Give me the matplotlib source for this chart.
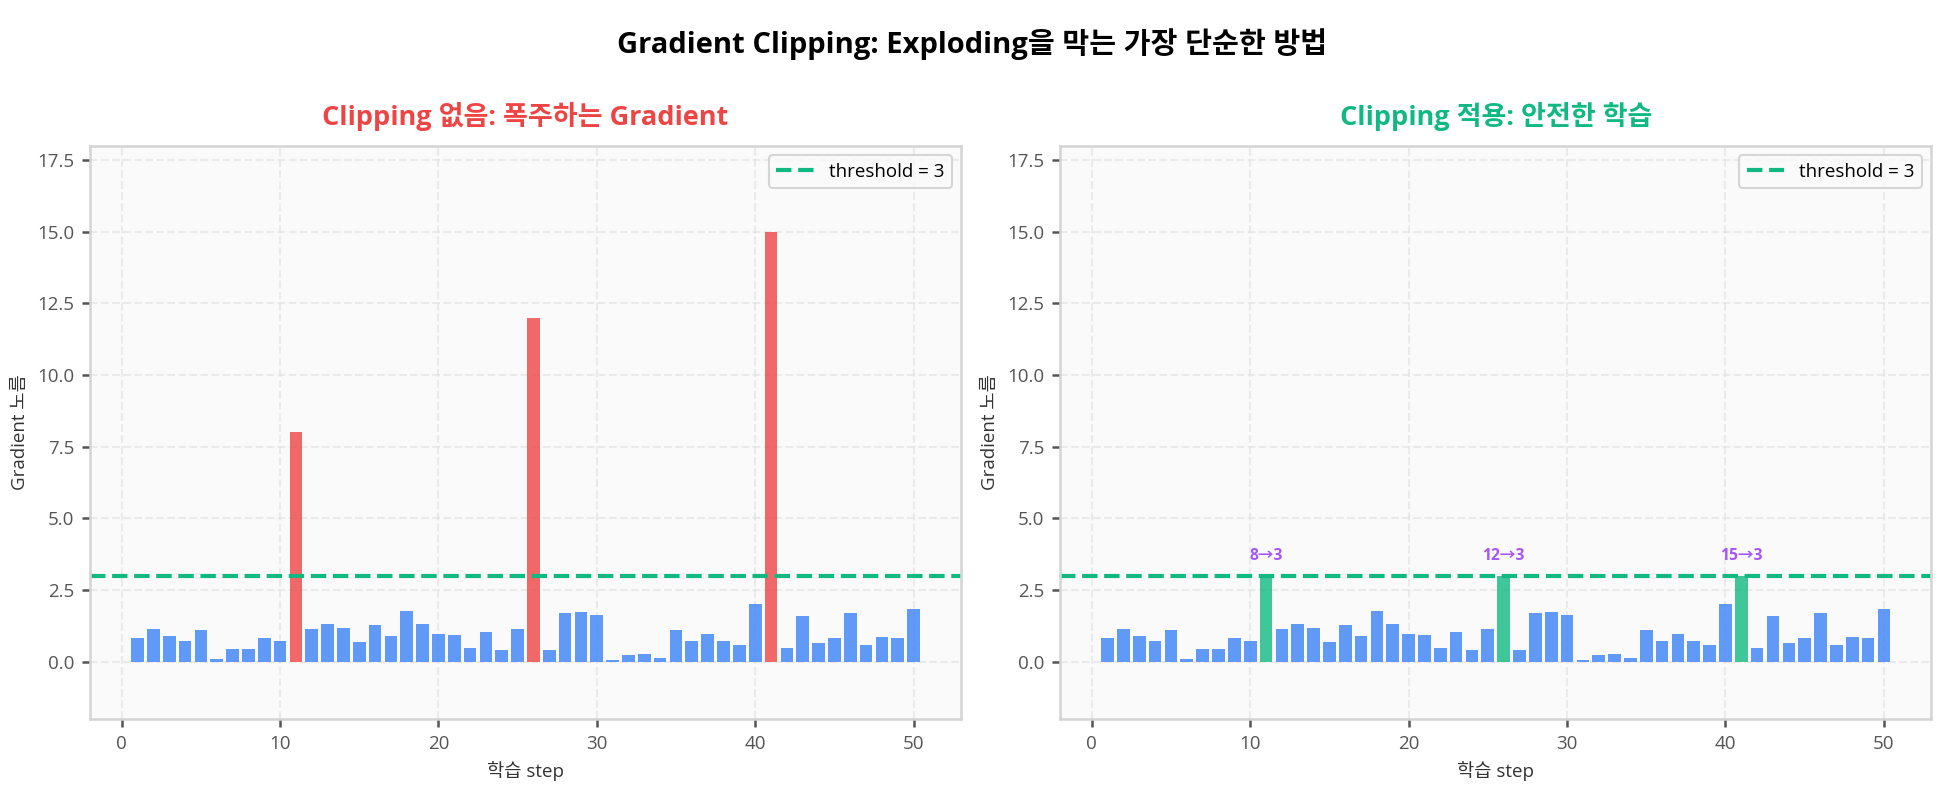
import matplotlib
matplotlib.use("Agg")
import matplotlib.pyplot as plt
import numpy as np

plt.rcParams['font.family'] = ['Open Sans', 'Noto Sans CJK KR', 'DejaVu Sans']
plt.rcParams['axes.unicode_minus'] = False

# data
steps = list(range(1, 51))
grad_norm = [0.83, 1.14, 0.90, 0.72, 1.11, 0.09, 0.44, 0.44, 0.83, 0.72,
             8.0, 1.14, 1.32, 1.18, 0.69, 1.29, 0.90, 1.78, 1.32, 0.97,
             0.93, 0.48, 1.04, 0.41, 1.14, 12.0, 0.41, 1.71, 1.74, 1.64,
             0.06, 0.23, 0.27, 0.13, 1.11, 0.72, 0.97, 0.72, 0.58, 2.02,
             15.0, 0.48, 1.60, 0.65, 0.83, 1.71, 0.58, 0.86, 0.83, 1.85]
threshold = 3

blue = '#3b82f6'
red = '#ef4444'
green = '#10b981'
purple = '#a855f7'

norms = np.array(grad_norm)
clipped = np.minimum(norms, threshold)
spike = norms > threshold

fig = plt.figure(figsize=(12.967, 5.28), dpi=150)
ax1 = fig.add_axes([0.0463, 0.092, 0.4478, 0.724])
ax2 = fig.add_axes([0.5450, 0.092, 0.4480, 0.724])

def style(ax):
    ax.set_facecolor('#fafafa')
    for s in ax.spines.values():
        s.set_color('#d4d4d4')
        s.set_linewidth(1.2)
    ax.grid(True, linestyle='--', color='#e0e0e0', linewidth=1, alpha=0.6)
    ax.set_axisbelow(True)
    ax.tick_params(colors='#555555', labelsize=9, length=4, width=1.2)
    ax.set_xlim(-2, 53)
    ax.set_ylim(-2, 18)
    ax.set_xlabel('학습 step', fontsize=9, color='#333333')
    ax.set_ylabel('Gradient 노름', fontsize=9, color='#333333')
    ax.axhline(threshold, color=green, linestyle='--', linewidth=2, label=f'threshold = {threshold}')
    ax.legend(loc='upper right', fontsize=9, frameon=True, edgecolor='#cccccc', facecolor='#fafafa')

# left: no clipping
colors1 = [red if s else blue for s in spike]
ax1.bar(steps, norms, color=colors1, alpha=0.8, width=0.8)
style(ax1)
ax1.set_title('Clipping 없음: 폭주하는 Gradient', fontsize=13, fontweight='bold', color=red, pad=10)

# right: clipped
colors2 = [green if s else blue for s in spike]
ax2.bar(steps, clipped, color=colors2, alpha=0.8, width=0.8)
style(ax2)
ax2.set_title('Clipping 적용: 안전한 학습', fontsize=13, fontweight='bold', color=green, pad=10)
for x, n in zip(steps, norms):
    if n > threshold:
        ax2.text(x, threshold + 0.4, f'{n:g}→{threshold}', ha='center', va='bottom',
                 fontsize=7.5, fontweight='bold', color=purple)

fig.suptitle('Gradient Clipping: Exploding을 막는 가장 단순한 방법', fontsize=14,
             fontweight='bold', y=0.965)

fig.savefig('out.png', dpi=150)
